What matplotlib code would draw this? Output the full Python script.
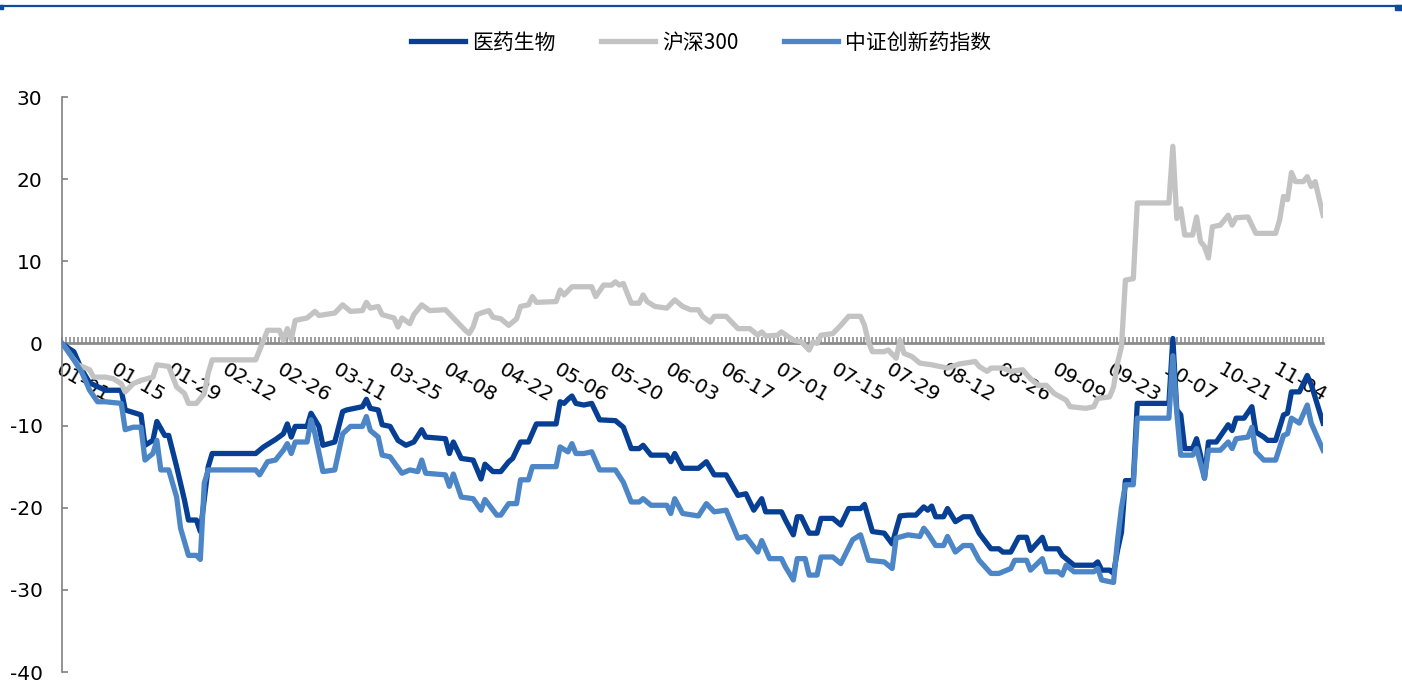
import numpy as np
import matplotlib
matplotlib.use("Agg")
import matplotlib.pyplot as plt
from matplotlib.lines import Line2D
from matplotlib.patches import Rectangle

plt.rcParams['font.family'] = ['DejaVu Sans', 'Noto Sans CJK SC']
plt.rcParams['axes.unicode_minus'] = False

# day offsets from 2024-01-01 and cumulative change (%)
yy_days = [0, 2, 3, 5, 7, 11, 15, 16, 20, 21, 23, 24, 26, 27, 29, 31, 32, 34, 35, 37, 38, 49, 51, 54,
           56, 57, 58, 59, 62, 63, 65, 66, 69, 71, 72, 76, 77, 78, 80, 81, 83, 85, 87, 89, 91, 92,
           97, 98, 99, 101, 104, 106, 107, 109, 111, 113, 114, 116, 118, 120, 125, 126, 127, 128,
           129, 130, 132, 134, 136, 140, 142, 144, 146, 147, 149, 153, 154, 155, 157, 161, 163,
           165, 168, 171, 173, 175, 177, 178, 182, 183, 185, 186, 187, 189, 191, 192, 195, 197,
           199, 202, 203, 205, 208, 210, 212, 214, 216, 218, 219, 220, 221, 223, 224, 226, 228,
           230, 232, 235, 237, 238, 240, 242, 244, 245, 248, 249, 252, 253, 256, 261, 262, 263,
           265, 266, 267, 268, 269, 271, 272, 280, 281, 282, 283, 284, 286, 287, 288, 289, 290,
           292, 295, 296, 297, 299, 301, 302, 304, 305, 307, 309, 310, 311, 313, 315, 316, 319]
yy_vals = [0, -0.7, -1.0, -3.2, -4.8, -5.7, -5.7, -8.1, -8.7, -12.4, -11.8, -9.5, -11.2, -11.2,
           -15.0, -19.1, -21.5, -21.5, -22.9, -15.0, -13.4, -13.4, -12.6, -11.7,
           -11.0, -9.8, -11.4, -10.1, -10.1, -8.5, -10.1, -12.4, -12.0, -8.3, -8.1, -7.7, -6.8,
           -7.9, -8.1, -9.9, -10.1, -11.8, -12.4, -12.0, -10.5, -11.4,
           -11.6, -13.4, -12.0, -14.0, -14.2, -16.5, -14.7, -15.6, -15.6, -14.4, -14.0, -12.0,
           -12.0, -9.8, -9.8, -7.1, -7.3, -6.8,
           -6.4, -7.3, -7.5, -7.3, -9.3, -9.4, -10.2, -12.8, -12.8, -12.4, -13.6, -13.6, -14.4,
           -13.4, -15.2, -15.2, -14.4,
           -16.0, -16.0, -18.5, -18.3, -20.3, -18.9, -20.5, -20.5, -21.5, -23.3, -21.1, -21.1,
           -23.1, -23.1, -21.3, -21.3, -22.1,
           -20.1, -20.1, -19.6, -22.9, -23.1, -24.4, -21.0, -20.9, -20.9, -19.9, -20.3, -19.8,
           -21.1, -21.1, -20.1, -21.7, -21.1,
           -21.1, -23.1, -25.0, -25.0, -25.4, -25.4, -23.6, -23.6, -25.2, -23.6, -25.0, -25.0,
           -25.8, -27.0, -27.0, -26.6, -27.6,
           -27.6, -28.0, -25.2, -23.0, -16.7, -16.7, -7.3, -7.3, 0.6, -8.1, -8.7, -12.8, -12.8,
           -11.6, -13.6, -16.4, -12.0,
           -12.0, -9.9, -10.6, -9.1, -9.1, -7.7, -10.8, -11.4, -11.8, -11.8, -8.7, -8.5, -5.9,
           -5.9, -3.9, -5.0, -9.7]

hs_days = [0, 4, 7, 8, 11, 13, 15, 16, 18, 20, 23, 24, 27, 29, 31, 32, 34, 36, 37, 38, 49, 50, 52,
           55, 56, 57, 58, 59, 62, 64, 65, 69, 71, 73, 76, 77, 78, 80, 81, 84, 85, 86, 88, 89, 91,
           93, 97, 99, 102, 103, 104, 105, 106, 108, 109, 111, 113, 115, 116, 118, 119, 120, 125,
           126, 127, 129, 134, 135, 137, 139, 140, 141, 142, 144, 146, 147, 148, 150, 153, 155,
           157, 159, 161, 162, 164, 165, 168, 171, 174, 176, 177, 178, 181, 182, 185, 187, 189,
           190, 191, 192, 195, 197, 199, 202, 203, 204, 205, 208, 209, 211, 212, 213, 215, 217,
           220, 224, 227, 231, 232, 234, 235, 238, 240, 243, 245, 247, 249, 251, 254, 255, 259,
           261, 262, 265, 266, 267, 268, 269, 271, 272, 280, 281, 282, 283, 284, 286, 287, 288,
           289, 290, 291, 293, 295, 296, 297, 300, 302, 307, 308, 309, 310, 311, 312, 314, 315,
           316, 317, 319]
hs_vals = [0, -2.6, -3.2, -4.1, -4.1, -4.3, -4.9, -5.9, -4.9, -4.5, -4.1, -2.6, -2.8, -5.3, -6.1,
           -7.3, -7.3, -6.1, -3.6, -2.0, -2.0, -0.8, 1.6,
           1.6, 0.4, 1.8, 0.5, 2.8, 3.1, 3.9, 3.4, 3.7, 4.7, 3.9, 4.0, 5.0, 4.3, 4.5, 3.5, 3.1,
           2.0, 3.1, 2.4, 3.5, 4.7,
           4.0, 4.1, 3.1, 1.6, 1.2, 2.0, 3.5, 3.7, 4.0, 3.2, 3.0, 2.2, 3.0, 4.5, 4.7, 5.7, 5.0,
           5.1,
           6.5, 5.9, 6.9, 6.9, 5.7, 7.1, 7.1, 7.5, 7.1, 7.3, 4.9, 4.9, 5.9, 5.1, 4.5, 4.3, 5.3,
           4.5, 4.1, 4.1, 3.3, 2.6, 3.3, 3.3, 1.8, 1.8, 1.0, 1.4, 0.9, 1.0, 1.4, 0.4, 0.2, -0.8,
           0.2, 0.0, 1.0, 1.2, 2.2, 3.3, 3.3, 2.2, 0.2, -1.0, -1.0, -0.8, -1.8, 0.4, -1.2, -1.6,
           -2.4,
           -2.6, -3.0, -2.5, -2.2, -2.8, -3.4, -3.0, -3.0, -3.4, -3.2, -4.3, -5.1, -5.1, -6.1,
           -6.9, -7.7, -7.9,
           -7.7, -6.7, -6.5, -5.3, -2.4, -0.4, 7.7, 7.9, 17.1, 17.1, 24.0, 15.2, 16.4, 13.2,
           13.2, 15.4, 12.4,
           11.8, 10.4, 14.2, 14.4, 15.6, 14.4, 15.3, 15.4, 13.4, 13.4, 15.0, 17.9, 17.5, 20.8,
           19.7, 19.7, 20.3,
           19.1, 19.7, 15.6]

cx_days = [0, 1, 3, 5, 7, 9, 11, 15, 16, 18, 20, 21, 23, 24, 25, 27, 29, 30, 32, 34, 35, 36, 37,
           49, 50, 52, 54, 56, 57, 58, 59, 62, 63, 64, 66, 69, 71, 73, 76, 77, 78, 80, 81, 83, 86,
           88, 90, 91, 92, 97, 98, 99, 101, 104, 106, 107, 110, 111, 113, 115, 116, 118, 119, 125,
           126, 128, 129, 130, 132, 134, 136, 140, 142, 144, 146, 147, 149, 153, 154, 155, 157,
           161, 163, 165, 168, 171, 173, 176, 177, 179, 182, 183, 185, 186, 188, 189, 191, 192,
           195, 197, 200, 202, 204, 208, 210, 211, 214, 217, 218, 219, 221, 223, 224, 226, 228,
           230, 232, 235, 237, 240, 241, 244, 245, 248, 249, 252, 253, 254, 256, 261, 262, 263,
           266, 267, 268, 269, 271, 272, 280, 281, 282, 283, 286, 287, 288, 289, 290, 293, 295,
           296, 297, 300, 301, 302, 304, 307, 309, 310, 311, 313, 315, 316, 319]
cx_vals = [0, -0.6, -2.0, -3.5, -5.7, -7.1, -7.1, -7.3, -10.5, -10.2, -10.2, -14.2, -13.4, -11.8,
           -15.4, -15.4, -18.7, -22.5, -25.8, -25.8, -26.3, -17.0, -15.4,
           -15.4, -16.0, -14.4, -14.2, -13.0, -12.2, -13.4, -12.0, -12.0, -9.3, -11.0, -15.6,
           -15.4, -11.0, -10.1, -10.1, -8.9, -10.6, -11.4, -13.6, -13.8, -15.8,
           -15.4, -15.6, -14.2, -15.8, -16.0, -17.4, -15.9, -18.7, -18.9, -20.3, -19.0, -20.9,
           -20.9, -19.5, -19.5, -16.6, -16.6, -15.0, -15.0,
           -12.6, -13.2, -12.2, -13.4, -13.4, -13.2, -15.4, -15.4, -16.9, -19.3, -19.3, -18.9,
           -19.7, -19.7, -20.7, -18.9, -20.7,
           -21.0, -19.5, -20.5, -20.3, -23.7, -23.5, -25.4, -24.0, -26.2, -26.2, -27.2, -28.8,
           -26.2, -26.2, -28.2, -28.2, -26.0,
           -26.0, -26.8, -23.9, -23.3, -26.4, -26.6, -27.4, -23.7, -23.3, -23.5, -22.5, -23.1,
           -24.6, -24.6, -23.5, -25.4, -24.6,
           -24.6, -26.4, -28.0, -28.0, -27.4, -26.4, -26.4, -27.6, -26.2, -27.8, -27.8, -28.2,
           -27.0, -27.8, -27.8, -27.4, -28.8,
           -29.1, -24.0, -20.0, -17.2, -17.2, -9.1, -9.1, -1.5, -8.5, -13.6, -13.6, -12.8, -14.6,
           -16.4, -13.0, -13.0, -12.0,
           -12.8, -11.6, -11.4, -10.2, -13.2, -14.2, -14.2, -11.2, -11.0, -9.1, -9.7, -7.5, -9.7,
           -13.0]

tick_labels = ['01-01', '01-15', '01-29', '02-12', '02-26', '03-11', '03-25', '04-08', '04-22',
               '05-06', '05-20', '06-03', '06-17', '07-01', '07-15', '07-29', '08-12', '08-26',
               '09-09', '09-23', '10-07', '10-21', '11-04']
series_names = ['医药生物', '沪深300', '中证创新药指数']

c_dark = '#063F94'
c_gray = '#C3C3C3'
c_light = '#4D86C6'

fig = plt.figure(figsize=(14.02, 6.86), dpi=100)
ax = fig.add_axes([0.0442, 0.0204, 0.8995, 0.8382])

l1, = ax.plot(yy_days, yy_vals, color=c_dark, lw=3.8, zorder=3)
l2, = ax.plot(hs_days, hs_vals, color=c_gray, lw=3.8, zorder=3)
l3, = ax.plot(cx_days, cx_vals, color=c_light, lw=3.8, zorder=3)

ax.set_xlim(0, 319)
ax.set_ylim(-40, 30)
ax.set_yticks(np.arange(-40, 31, 10))

ax.spines['top'].set_visible(False)
ax.spines['right'].set_visible(False)
ax.spines['left'].set_color('#808080')
ax.spines['left'].set_linewidth(1.2)
ax.spines['bottom'].set_position(('data', 0))
ax.spines['bottom'].set_color('#8C8C8C')
ax.spines['bottom'].set_linewidth(2.0)
ax.spines['bottom'].set_zorder(2)

ax.set_xticks(np.arange(0, 14 * len(tick_labels), 14))
ax.set_xticks(np.arange(0, 320, 1), minor=True)
ax.set_xticklabels(tick_labels, rotation=-30, ha='left', va='top', rotation_mode='anchor',
                   fontsize=14.5)
ax.tick_params(axis='x', which='both', direction='in', length=4.5, width=1.2, color='#8C8C8C',
               pad=12)
ax.tick_params(axis='y', direction='in', length=4, width=1.2, color='#808080', labelsize=14.5,
               pad=14)

fig.legend([l1, l2, l3], series_names, loc='center', bbox_to_anchor=(0.5, 0.938), ncol=3,
           frameon=False, handlelength=2.6, handletextpad=0.33, columnspacing=2.2,
           prop={'family': ['Noto Sans CJK SC', 'DejaVu Sans'], 'size': 15})

# header rule
fig.add_artist(Line2D([0, 1], [1 - 5.5 / 686, 1 - 5.5 / 686], color='#0E4C9A', lw=1.6,
                      transform=fig.transFigure))
fig.add_artist(Rectangle((0, 1 - 9 / 686), 3 / 1402, 4 / 686, color='#0E4C9A',
                         transform=fig.transFigure))
fig.add_artist(Rectangle((1 - 7 / 1402, 1 - 10 / 686), 7 / 1402, 5 / 686, color='#0E4C9A',
                         transform=fig.transFigure))

fig.savefig('out.png', dpi=100)
